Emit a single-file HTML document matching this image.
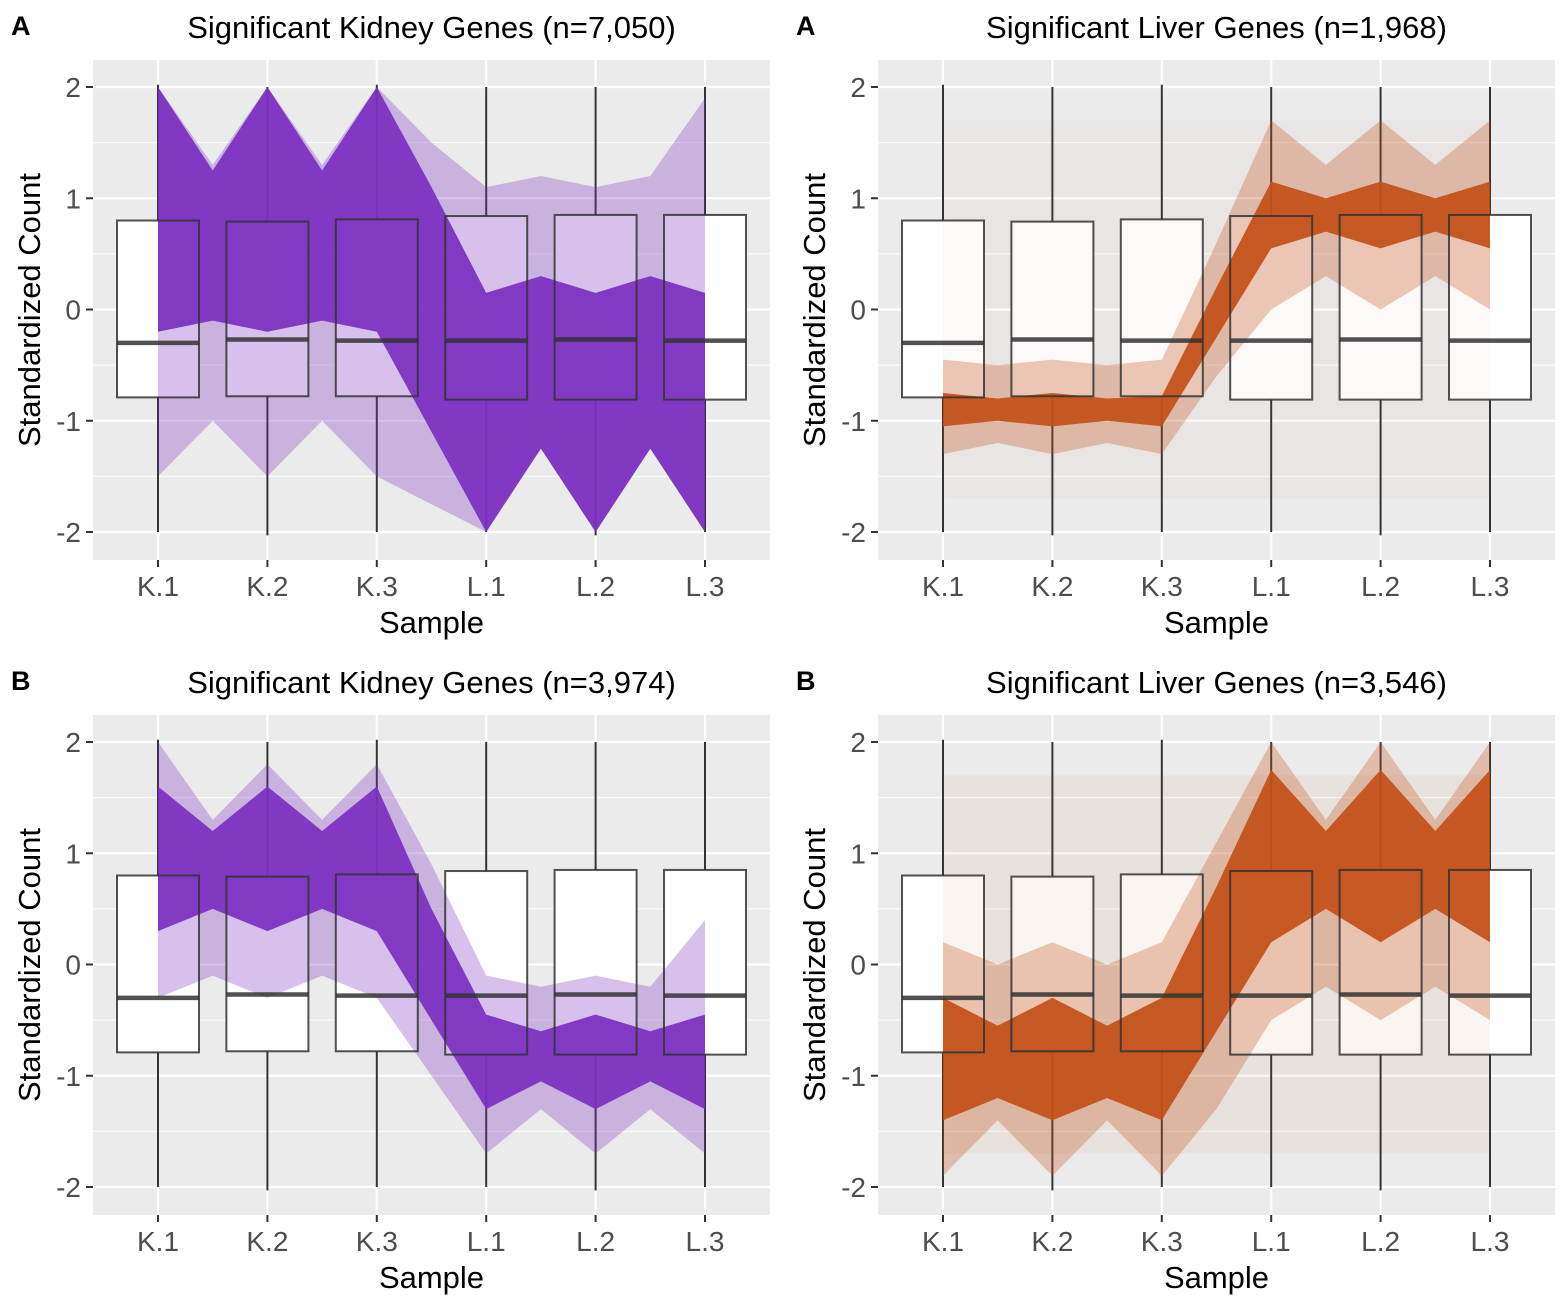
<!DOCTYPE html>
<html><head><meta charset="utf-8"><style>
body{margin:0;background:#fff;}
svg{display:block;font-family:"Liberation Sans",Arial,sans-serif;}
</style></head><body>
<svg id="fig" width="1568" height="1308" viewBox="0 0 1568 1308" xmlns="http://www.w3.org/2000/svg"></svg>
<script>
const samples=["K.1","K.2","K.3","L.1","L.2","L.3"];
const yTicks=[-2,-1,0,1,2];
const titles=["Significant Kidney Genes (n=7,050)","Significant Liver Genes (n=1,968)","Significant Kidney Genes (n=3,974)","Significant Liver Genes (n=3,546)"];
const tags=["A","A","B","B"];
const colors=["#7b2fc0","#c24f17","#7b2fc0","#c24f17"];
// box stats per sample: q1, median, q3, whisker low, whisker high
const boxQ1=[-0.79,-0.78,-0.78,-0.81,-0.81,-0.81];
const boxMed=[-0.30,-0.27,-0.28,-0.28,-0.27,-0.28];
const boxQ3=[0.80,0.79,0.81,0.84,0.85,0.85];
const whiskLo=[-2.0,-2.03,-2.0,-2.0,-2.03,-2.0];
const whiskHi=[2.02,2.0,2.02,2.0,2.0,2.0];
// profile envelopes at half-sample positions 0,0.5,...,5
const coreHi=[
 [2,1.25,2,1.25,2,1.1,0.15,0.3,0.15,0.3,0.15],
 [-0.75,-0.8,-0.75,-0.8,-0.78,0.2,1.15,1.0,1.15,1.0,1.15],
 [1.6,1.2,1.6,1.2,1.6,0.5,-0.45,-0.6,-0.45,-0.6,-0.45],
 [-0.3,-0.55,-0.3,-0.55,-0.3,0.7,1.75,1.2,1.75,1.2,1.75]];
const coreLo=[
 [-0.2,-0.1,-0.2,-0.1,-0.2,-1.1,-2,-1.25,-2,-1.25,-2],
 [-1.05,-1.0,-1.05,-1.0,-1.05,-0.25,0.55,0.7,0.55,0.7,0.55],
 [0.3,0.5,0.3,0.5,0.3,-0.5,-1.3,-1.05,-1.3,-1.05,-1.3],
 [-1.4,-1.2,-1.4,-1.2,-1.4,-0.6,0.2,0.5,0.2,0.5,0.2]];
const outerHi=[
 [2,1.3,2,1.3,2,1.5,1.1,1.2,1.1,1.2,1.9],
 [-0.45,-0.5,-0.45,-0.5,-0.45,0.6,1.7,1.3,1.7,1.3,1.7],
 [2,1.3,1.8,1.3,1.8,0.9,-0.1,-0.2,-0.1,-0.2,0.4],
 [0.2,0.0,0.2,0.0,0.2,1.1,2,1.3,2,1.3,2]];
const outerLo=[
 [-1.5,-1.0,-1.5,-1.0,-1.5,-1.75,-2,-1.25,-2,-1.25,-2],
 [-1.3,-1.2,-1.3,-1.2,-1.3,-0.6,0.0,0.3,0.0,0.3,0.0],
 [-0.3,-0.1,-0.3,-0.1,-0.3,-1.0,-1.7,-1.3,-1.7,-1.3,-1.7],
 [-1.9,-1.4,-1.9,-1.4,-1.9,-1.3,-0.5,-0.2,-0.5,-0.2,-0.5]];
const faintAlpha=[0.0,0.03,0.0,0.06];

const NS="http://www.w3.org/2000/svg";
const svg=document.getElementById("fig");
function mk(tag,attrs,parent){const e=document.createElementNS(NS,tag);for(const k in attrs)e.setAttribute(k,attrs[k]);(parent||svg).appendChild(e);return e;}
const panels=[{x0:93,x1:770,y0:60,y1:560},{x0:878,x1:1555,y0:60,y1:560},{x0:93,x1:770,y0:715,y1:1215},{x0:878,x1:1555,y0:715,y1:1215}];
panels.forEach((p,pi)=>{
 const g=mk("g",{});
 
 
 const ys=v=>p.y0+249.5-v*111.25;
 const xs=i=>p.x0+65+i*109.4;
 const bg=mk("rect",{x:p.x0,y:p.y0,width:p.x1-p.x0,height:p.y1-p.y0,fill:"#ebebeb"},g);
 
 
 [-1.5,-0.5,0.5,1.5].forEach(v=>mk("line",{x1:p.x0,x2:p.x1,y1:ys(v),y2:ys(v),stroke:"#fff","stroke-width":1},g));
 yTicks.forEach(v=>mk("line",{x1:p.x0,x2:p.x1,y1:ys(v),y2:ys(v),stroke:"#fff","stroke-width":2.2},g));
 samples.forEach((s,i)=>mk("line",{x1:xs(i),x2:xs(i),y1:p.y0,y2:p.y1,stroke:"#fff","stroke-width":2.2},g));
 samples.forEach((s,i)=>{mk("rect",{x:xs(i)-41,y:ys(boxQ3[i]),width:82,height:ys(boxQ1[i])-ys(boxQ3[i]),fill:"#fff"},g);});
 samples.forEach((s,i)=>{
  mk("line",{x1:xs(i),x2:xs(i),y1:ys(whiskHi[i]),y2:ys(boxQ3[i]),stroke:"#333","stroke-width":2},g);
  mk("line",{x1:xs(i),x2:xs(i),y1:ys(boxQ1[i]),y2:ys(whiskLo[i]),stroke:"#333","stroke-width":2},g);
 });
 const band=(hi,lo,op,name)=>{
  if(op<=0)return;
  let pts=[];
  hi.forEach((v,k)=>pts.push(xs(k*0.5)+","+ys(v)));
  for(let k=lo.length-1;k>=0;k--)pts.push(xs(k*0.5)+","+ys(lo[k]));
  const e=mk("polygon",{points:pts.join(" "),fill:colors[pi],"fill-opacity":op},g);
  
  
 };
 band(new Array(11).fill(1.7),new Array(11).fill(-1.7),faintAlpha[pi],'faint-gene-lines');
 band(outerHi[pi],outerLo[pi],0.3,'outer-gene-band');
 band(coreHi[pi],coreLo[pi],0.92,'core-gene-band');
 samples.forEach((s,i)=>{
  const r=mk("rect",{x:xs(i)-41,y:ys(boxQ3[i]),width:82,height:ys(boxQ1[i])-ys(boxQ3[i]),fill:"none",stroke:"#333","stroke-width":2,"stroke-opacity":0.85},g);
  
  
  mk("line",{x1:xs(i)-41,x2:xs(i)+41,y1:ys(boxMed[i]),y2:ys(boxMed[i]),stroke:"#333","stroke-width":4.5,"stroke-opacity":0.85},g);
 });
 yTicks.forEach(v=>{
  mk("line",{x1:p.x0-7,x2:p.x0,y1:ys(v),y2:ys(v),stroke:"#333","stroke-width":2},g);
  const t=mk("text",{x:p.x0-12,y:ys(v)+10,"text-anchor":"end","font-size":28,fill:"#4d4d4d"},g);t.textContent=v;
  
  
 });
 samples.forEach((s,i)=>{
  mk("line",{x1:xs(i),x2:xs(i),y1:p.y1,y2:p.y1+7,stroke:"#333","stroke-width":2},g);
  const t=mk("text",{x:xs(i),y:p.y1+36,"text-anchor":"middle","font-size":28,fill:"#4d4d4d"},g);t.textContent=s;
  
  
 });
 const cx=(p.x0+p.x1)/2;
 const xt=mk("text",{x:cx,y:p.y1+73,"text-anchor":"middle","font-size":31,fill:"#000"},g);xt.textContent="Sample";
 
 
 const yc=(p.y0+p.y1)/2, yx=p.x0-53;
 const yt=mk("text",{x:yx,y:yc,"text-anchor":"middle","font-size":31,fill:"#000",transform:`rotate(-90 ${yx} ${yc})`},g);yt.textContent="Standardized Count";
 
 
 const tt=mk("text",{x:cx,y:p.y0-22,"text-anchor":"middle","font-size":31,fill:"#000"},g);tt.textContent=titles[pi];
 
 
 const tg=mk("text",{x:p.x0-82,y:p.y0-25,"font-size":27,"font-weight":"bold",fill:"#000"},g);tg.textContent=tags[pi];
 
 
});
</script>
</body></html>
